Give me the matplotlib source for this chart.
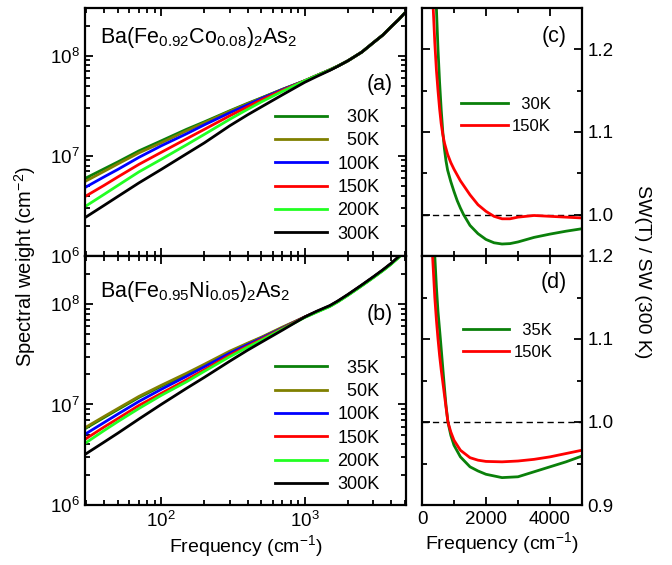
import numpy as np
import matplotlib
matplotlib.use('Agg')
import matplotlib.pyplot as plt
from matplotlib.ticker import MultipleLocator, LogLocator, NullFormatter, FormatStrFormatter

plt.rcParams['font.family'] = ['Liberation Sans', 'DejaVu Sans']
plt.rcParams['mathtext.fontset'] = 'custom'
plt.rcParams['mathtext.rm'] = 'Liberation Sans'
plt.rcParams['mathtext.it'] = 'Liberation Sans:italic'
plt.rcParams['mathtext.bf'] = 'Liberation Sans:bold'

# ---------------- data ----------------
# frequency grid (cm^-1) for spectral weight panels (a),(b)
freq_sw = [30, 40, 50, 70, 100, 150, 200, 300, 400, 500, 700, 1000, 1200, 1500, 1700,
           2000, 2500, 3000, 3500, 4000, 4500, 5000]

# panel (a): Ba(Fe0.92Co0.08)2As2, log10 of spectral weight (cm^-2)
labels_a = ['30K', '50K', '100K', '150K', '200K', '300K']
log_sw_a_30K  = [6.78, 6.87, 6.94, 7.05, 7.15, 7.265, 7.34, 7.45, 7.525, 7.58, 7.665, 7.75,
                 7.80, 7.86, 7.897, 7.95, 8.037, 8.13, 8.207, 8.29, 8.36, 8.43]
log_sw_a_50K  = [6.75, 6.845, 6.92, 7.03, 7.13, 7.25, 7.33, 7.445, 7.52, 7.578, 7.665, 7.75,
                 7.80, 7.86, 7.897, 7.95, 8.037, 8.13, 8.207, 8.29, 8.36, 8.43]
log_sw_a_100K = [6.69, 6.79, 6.865, 6.985, 7.10, 7.22, 7.31, 7.43, 7.51, 7.573, 7.662, 7.75,
                 7.80, 7.86, 7.897, 7.95, 8.037, 8.13, 8.207, 8.29, 8.36, 8.43]
log_sw_a_150K = [6.60, 6.705, 6.79, 6.915, 7.035, 7.17, 7.265, 7.40, 7.49, 7.56, 7.655, 7.75,
                 7.80, 7.86, 7.897, 7.95, 8.037, 8.13, 8.207, 8.29, 8.36, 8.43]
log_sw_a_200K = [6.50, 6.615, 6.705, 6.84, 6.965, 7.11, 7.215, 7.365, 7.465, 7.54, 7.645, 7.75,
                 7.80, 7.86, 7.897, 7.95, 8.037, 8.13, 8.207, 8.29, 8.36, 8.43]
log_sw_a_300K = [6.39, 6.505, 6.595, 6.73, 6.864, 7.02, 7.13, 7.30, 7.41, 7.49, 7.61, 7.735,
                 7.79, 7.855, 7.895, 7.95, 8.037, 8.13, 8.207, 8.29, 8.36, 8.43]

# panel (b): Ba(Fe0.95Ni0.05)2As2
labels_b = ['35K', '50K', '100K', '150K', '200K', '300K']
log_sw_b_35K  = [6.765, 6.87, 6.95, 7.07, 7.18, 7.30, 7.39, 7.52, 7.605, 7.665, 7.765, 7.87,
                 7.92, 7.98, 8.025, 8.09, 8.185, 8.265, 8.335, 8.40, 8.465, 8.525]
log_sw_b_50K  = [6.775, 6.88, 6.96, 7.08, 7.19, 7.31, 7.40, 7.53, 7.61, 7.67, 7.77, 7.87,
                 7.92, 7.98, 8.025, 8.09, 8.185, 8.265, 8.335, 8.40, 8.465, 8.525]
log_sw_b_100K = [6.71, 6.82, 6.905, 7.03, 7.15, 7.28, 7.375, 7.51, 7.595, 7.66, 7.76, 7.87,
                 7.92, 7.98, 8.025, 8.09, 8.185, 8.265, 8.335, 8.40, 8.465, 8.525]
log_sw_b_150K = [6.66, 6.775, 6.86, 6.99, 7.11, 7.245, 7.345, 7.49, 7.58, 7.65, 7.755, 7.87,
                 7.92, 7.98, 8.025, 8.09, 8.185, 8.265, 8.335, 8.40, 8.465, 8.525]
log_sw_b_200K = [6.62, 6.74, 6.83, 6.96, 7.09, 7.225, 7.33, 7.475, 7.57, 7.64, 7.75, 7.865,
                 7.915, 7.975, 8.02, 8.085, 8.18, 8.26, 8.33, 8.395, 8.46, 8.52]
log_sw_b_300K = [6.51, 6.625, 6.715, 6.855, 7.00, 7.16, 7.27, 7.43, 7.54, 7.62, 7.74, 7.87,
                 7.925, 7.985, 8.03, 8.095, 8.19, 8.27, 8.34, 8.405, 8.47, 8.53]

# panels (c),(d): SW(T)/SW(300K)
freq_c_30K = [350, 400, 450, 500, 550, 600, 650, 700, 750, 800, 900, 1000, 1100, 1200, 1300,
              1500, 1750, 2000, 2250, 2500, 2750, 3000, 3500, 4000, 4500, 5000]
ratio_c_30K = [1.36, 1.30, 1.25, 1.20, 1.16, 1.127, 1.10, 1.08, 1.065, 1.054, 1.04, 1.028,
               1.017, 1.008, 1.0, 0.987, 0.977, 0.970, 0.966, 0.9645, 0.965, 0.967,
               0.9725, 0.9765, 0.980, 0.983]
freq_c_150K = [280, 350, 400, 450, 500, 550, 600, 650, 700, 800, 900, 1000, 1200, 1500,
               1750, 2000, 2250, 2500, 2750, 3000, 3500, 4000, 4500, 5000]
ratio_c_150K = [1.31, 1.25, 1.208, 1.175, 1.15, 1.128, 1.11, 1.097, 1.087, 1.073, 1.063, 1.055,
                1.041, 1.024, 1.012, 1.004, 0.998, 0.995, 0.995, 0.997, 0.999, 0.998,
                0.997, 0.996]

freq_d_35K = [320, 400, 450, 500, 575, 650, 700, 750, 810, 900, 1000, 1200, 1500, 1750, 2000,
              2500, 3000, 3500, 4000, 4500, 5000]
ratio_d_35K = [1.28, 1.20, 1.163, 1.133, 1.10, 1.065, 1.042, 1.02, 1.00, 0.984, 0.972, 0.958,
               0.946, 0.941, 0.937, 0.933, 0.934, 0.940, 0.946, 0.952, 0.959]
freq_d_150K = [280, 330, 400, 450, 500, 550, 600, 700, 810, 900, 1000, 1200, 1500, 1750,
               2000, 2500, 3000, 3500, 4000, 4500, 5000]
ratio_d_150K = [1.25, 1.20, 1.15, 1.123, 1.10, 1.08, 1.063, 1.033, 1.00, 0.988, 0.978, 0.966,
                0.957, 0.954, 0.9525, 0.952, 0.953, 0.955, 0.958, 0.962, 0.966]

colors6 = ['#0a800a', '#808000', '#0000ff', '#ff0000', '#22ff22', '#000000']

# ---------------- figure ----------------
fig = plt.figure(figsize=(6.72, 5.65), dpi=100)
W, H = 672.0, 565.0

def ax_at(x0, y0, x1, y1):
    return fig.add_axes([x0 / W, 1 - y1 / H, (x1 - x0) / W, (y1 - y0) / H])

axA = ax_at(85, 8, 405.7, 256)
axB = ax_at(85, 256, 405.7, 505)
axC = ax_at(422, 8, 582, 256)
axD = ax_at(422, 256, 582, 505)

LW = 2.0
FS_TICK = 13.5
for ax in (axA, axB, axC, axD):
    for s in ax.spines.values():
        s.set_linewidth(1.6)
    ax.tick_params(which='both', direction='in', top=True, right=True, width=1.3,
                   labelsize=FS_TICK, pad=4)
    ax.tick_params(which='major', length=6)
    ax.tick_params(which='minor', length=3.5)

series_a = [log_sw_a_30K, log_sw_a_50K, log_sw_a_100K, log_sw_a_150K, log_sw_a_200K, log_sw_a_300K]
series_b = [log_sw_b_35K, log_sw_b_50K, log_sw_b_100K, log_sw_b_150K, log_sw_b_200K, log_sw_b_300K]
f_arr = np.array(freq_sw, dtype=float)

for ax, series, labels, title, tpos, plabel, ppos, legy in (
        (axA, series_a, labels_a, r'Ba(Fe$_{0.92}$Co$_{0.08}$)$_2$As$_2$', 0.859, '(a)', 0.69, 0.593),
        (axB, series_b, labels_b, r'Ba(Fe$_{0.95}$Ni$_{0.05}$)$_2$As$_2$', 0.835, '(b)', 0.767, 0.584)):
    for vals, lab, col in zip(series, labels, colors6):
        lab_txt = ('  ' + lab) if len(lab) == 3 else lab
        ax.plot(f_arr, 10 ** np.array(vals), color=col, lw=LW, label=lab_txt)
    ax.set_xscale('log')
    ax.set_yscale('log')
    ax.set_xlim(29.5, 5050)
    ax.set_ylim(1e6, 3e8)
    ax.xaxis.set_major_locator(LogLocator(base=10, numticks=10))
    ax.xaxis.set_minor_locator(LogLocator(base=10, subs=np.arange(2, 10), numticks=20))
    ax.yaxis.set_major_locator(LogLocator(base=10, numticks=10))
    ax.yaxis.set_minor_locator(LogLocator(base=10, subs=np.arange(2, 10), numticks=20))
    ax.xaxis.set_minor_formatter(NullFormatter())
    ax.yaxis.set_minor_formatter(NullFormatter())
    ax.text(0.047, tpos, title, transform=ax.transAxes, fontsize=15.5, ha='left', va='baseline')
    ax.text(0.96, ppos, plabel, transform=ax.transAxes, fontsize=15.5, ha='right', va='center')
    ax.legend(loc='upper left', bbox_to_anchor=(0.592, legy), frameon=False, fontsize=13,
              handlelength=2.9, handletextpad=0.55, labelspacing=0.35,
              borderpad=0, borderaxespad=0)

axA.tick_params(axis='x', which='both', labelbottom=False)
axB.set_xlabel('Frequency (cm$^{-1}$)', fontsize=14, labelpad=2)

# right panels
for ax, (fa, ra, la), (fb, rb, lb), ylim, plabel, ppos, legx, legy in (
        (axC, (freq_c_30K, ratio_c_30K, '30K'), (freq_c_150K, ratio_c_150K, '150K'),
         (0.95, 1.25), '(c)', (0.904, 0.884), 0.244, 0.643),
        (axD, (freq_d_35K, ratio_d_35K, '35K'), (freq_d_150K, ratio_d_150K, '150K'),
         (0.9, 1.2), '(d)', (0.904, 0.894), 0.254, 0.730)):
    ax.axhline(1.0, color='black', lw=1.0, ls=(0, (4.5, 3.0)))
    ax.plot(fa, ra, color=colors6[0], lw=LW, label='  ' + la)
    ax.plot(fb, rb, color=colors6[3], lw=LW, label=lb)
    ax.set_xlim(0, 5000)
    ax.set_ylim(*ylim)
    ax.xaxis.set_major_locator(MultipleLocator(2000))
    ax.xaxis.set_minor_locator(MultipleLocator(1000))
    ax.yaxis.set_major_locator(MultipleLocator(0.1))
    ax.yaxis.set_minor_locator(MultipleLocator(0.05))
    ax.yaxis.set_major_formatter(FormatStrFormatter('%.1f'))
    ax.tick_params(axis='y', which='both', labelleft=False, labelright=True)
    ax.text(ppos[0], ppos[1], plabel, transform=ax.transAxes, fontsize=15.5, ha='right', va='center')
    ax.legend(loc='upper left', bbox_to_anchor=(legx, legy), frameon=False, fontsize=12,
              handlelength=2.8, handletextpad=0.25, labelspacing=0.42,
              borderpad=0, borderaxespad=0)

axC.tick_params(axis='x', which='both', labelbottom=False)
axD.set_xlabel('Frequency (cm$^{-1}$)', fontsize=14, labelpad=2)

fig.text(25 / W, 1 - 267 / H, 'Spectral weight (cm$^{-2}$)', rotation=90, fontsize=14.5,
         ha='center', va='center')
fig.text(643 / W, 1 - 272 / H, 'SW(T) / SW (300 K)', rotation=-90, fontsize=14,
         ha='center', va='center')

fig.savefig('out.png', dpi=100)
